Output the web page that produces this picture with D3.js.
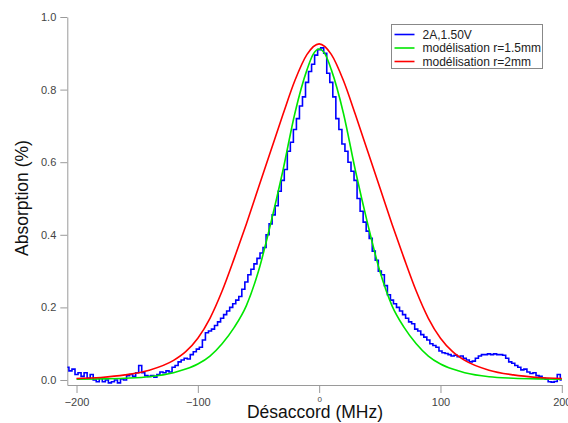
<!DOCTYPE html>
<html>
<head>
<meta charset="utf-8">
<script src="https://cdn.jsdelivr.net/npm/d3@7"></script>
<style>
  body { margin: 0; background: #fff; }
  svg { display: block; font-family: "Liberation Sans", Arial, sans-serif; }
</style>
</head>
<body>
<div id="chart"></div>
<script>
// Setting up sizes
const width = 568;
const height = 423;

const plot = { left: 67.3, right: 561.8, top: 17, bottom: 385 };

// Measured trace (2A, 1.50V), one value every 2.5 MHz starting at -207.5
const blueStart = -207.5;
const blueStep = 2.5;
const blueValues = [
  0.035, 0.025, 0.03, 0.015, 0.02, 0.01, 0.02, 0.005, 0.015, 0.0,
  -0.005, 0.005, -0.005, 0.0, -0.008, -0.005, 0.0, -0.008, 0.003, 0.0,
  0.012, 0.015, 0.01, 0.02, 0.04, 0.02, 0.012, 0.01, 0.012, 0.008,
  0.015, 0.022, 0.02, 0.025, 0.022, 0.035, 0.04, 0.05, 0.055, 0.06,
  0.058, 0.07, 0.078, 0.085, 0.09, 0.11, 0.13, 0.135, 0.14, 0.15,
  0.16, 0.17, 0.18, 0.19, 0.2, 0.21, 0.22, 0.23, 0.25, 0.27,
  0.29, 0.305, 0.32, 0.335, 0.35, 0.365, 0.4, 0.43, 0.455, 0.48,
  0.52, 0.55, 0.58, 0.63, 0.655, 0.69, 0.72, 0.755, 0.78, 0.82,
  0.85, 0.87, 0.895, 0.91, 0.915, 0.9, 0.845, 0.82, 0.78, 0.72,
  0.69, 0.65, 0.63, 0.6, 0.575, 0.55, 0.5, 0.465, 0.435, 0.41,
  0.39, 0.355, 0.33, 0.3, 0.29, 0.26, 0.235, 0.22, 0.21, 0.2,
  0.19, 0.18, 0.17, 0.16, 0.155, 0.14, 0.135, 0.125, 0.118, 0.11,
  0.1, 0.095, 0.09, 0.08, 0.075, 0.073, 0.07, 0.066, 0.068, 0.064,
  0.066, 0.06, 0.055, 0.05, 0.052, 0.06, 0.066, 0.07, 0.07, 0.072,
  0.07, 0.072, 0.07, 0.07, 0.068, 0.06, 0.05, 0.046, 0.04, 0.035,
  0.028, 0.03, 0.022, 0.018, 0.02, 0.012, 0.01, 0.005, 0.002, -0.005,
  -0.006, -0.004, 0.015, 0.0
];

// Model r=1.5mm (green)
const greenX = [-200, -180, -160, -140, -120, -110, -100, -90, -80, -70, -60, -50, -40, -30, -20, -10, -5, 0,
  5, 10, 20, 30, 40, 50, 60, 70, 80, 90, 100, 110, 120, 140, 160, 180, 200];
const greenY = [0.002, 0.003, 0.005, 0.009, 0.02, 0.03, 0.044, 0.066, 0.1, 0.145, 0.205, 0.3, 0.43, 0.575, 0.735, 0.855, 0.897, 0.912,
  0.897, 0.855, 0.735, 0.575, 0.43, 0.3, 0.205, 0.145, 0.1, 0.066, 0.044, 0.03, 0.02, 0.009, 0.005, 0.003, 0.002];

// Model r=2mm (red)
const redX = [-200, -180, -160, -140, -120, -110, -100, -90, -80, -70, -60, -50, -40, -30, -20, -10, 0,
  10, 20, 30, 40, 50, 60, 70, 80, 90, 100, 110, 120, 140, 160, 180, 200];
const redY = [0.004, 0.007, 0.014, 0.027, 0.054, 0.078, 0.115, 0.17, 0.245, 0.335, 0.43, 0.53, 0.63, 0.73, 0.825, 0.897, 0.926,
  0.897, 0.825, 0.73, 0.63, 0.53, 0.43, 0.335, 0.245, 0.17, 0.115, 0.078, 0.054, 0.027, 0.014, 0.007, 0.004];

const xTicks = [-200, -100, 0, 100, 200];
const yTicks = [0, 0.2, 0.4, 0.6, 0.8, 1.0];

const legendLabels = ["2A,1.50V", "modélisation r=1.5mm", "modélisation r=2mm"];
const colors = ["#0000ff", "#00e600", "#ff0000"];

const svg = d3.select("#chart")
  .append("svg")
  .attr("width", width)
  .attr("height", height);

// Scales
const x = d3.scaleLinear()
  .domain([-207.6, 200])
  .range([plot.left, plot.right]);

const y = d3.scaleLinear()
  .domain([-0.0138, 1.0])
  .range([plot.bottom, plot.top]);

// Axes
const xAxis = svg.append("g")
  .attr("transform", `translate(0,${plot.bottom})`)
  .call(d3.axisBottom(x).tickValues(xTicks).tickSize(8).tickPadding(5).tickSizeOuter(0));

const yAxis = svg.append("g")
  .attr("transform", `translate(${plot.left},0)`)
  .call(d3.axisLeft(y).tickValues(yTicks).tickFormat(d3.format(".1f")).tickSize(7).tickPadding(4).tickSizeOuter(0));

[xAxis, yAxis].forEach(g => {
  g.select(".domain").attr("stroke", "#9a9a9a");
  g.selectAll(".tick line").attr("stroke", "#9a9a9a");
  g.selectAll(".tick text")
    .attr("fill", "#444")
    .style("font-size", "11px")
    .style("font-family", "'Liberation Sans', Arial, sans-serif");
});

// the "0" label is squeezed smaller above the title
xAxis.selectAll(".tick text")
  .filter(d => d === 0)
  .style("font-size", "8px")
  .attr("y", 11);

// Axis titles
svg.append("text")
  .attr("x", 315)
  .attr("y", 418)
  .attr("text-anchor", "middle")
  .attr("fill", "#111")
  .style("font-size", "17.5px")
  .text("Désaccord (MHz)");

svg.append("text")
  .attr("transform", "translate(28,198) rotate(-90)")
  .attr("text-anchor", "middle")
  .attr("fill", "#111")
  .style("font-size", "17.5px")
  .text("Absorption (%)");

// Traces
const blueData = blueValues.map((v, i) => [blueStart + i * blueStep, v]);
const greenData = greenX.map((v, i) => [v, greenY[i]]);
const redData = redX.map((v, i) => [v, redY[i]]);

const stepLine = d3.line()
  .x(d => x(d[0]))
  .y(d => y(d[1]))
  .curve(d3.curveStep);

const smoothLine = d3.line()
  .x(d => x(d[0]))
  .y(d => y(d[1]))
  .curve(d3.curveMonotoneX);

svg.append("path")
  .datum(blueData)
  .attr("fill", "none")
  .attr("stroke", colors[0])
  .attr("stroke-width", 1.6)
  .attr("d", stepLine);

svg.append("path")
  .datum(greenData)
  .attr("fill", "none")
  .attr("stroke", colors[1])
  .attr("stroke-width", 1.6)
  .attr("d", smoothLine);

svg.append("path")
  .datum(redData)
  .attr("fill", "none")
  .attr("stroke", colors[2])
  .attr("stroke-width", 1.6)
  .attr("d", smoothLine);

// Legend
const legend = svg.append("g")
  .attr("transform", "translate(391.5,24.5)");

legend.append("rect")
  .attr("width", 151)
  .attr("height", 44)
  .attr("fill", "#fff")
  .attr("stroke", "#888")
  .attr("stroke-width", 1);

legendLabels.forEach((label, i) => {
  const ly = 10 + i * 13.5;
  legend.append("line")
    .attr("x1", 3).attr("x2", 23)
    .attr("y1", ly).attr("y2", ly)
    .attr("stroke", colors[i])
    .attr("stroke-width", 1.6);
  legend.append("text")
    .attr("x", 31)
    .attr("y", ly + 4)
    .attr("fill", "#222")
    .style("font-size", "12px")
    .text(label);
});
</script>
</body>
</html>
